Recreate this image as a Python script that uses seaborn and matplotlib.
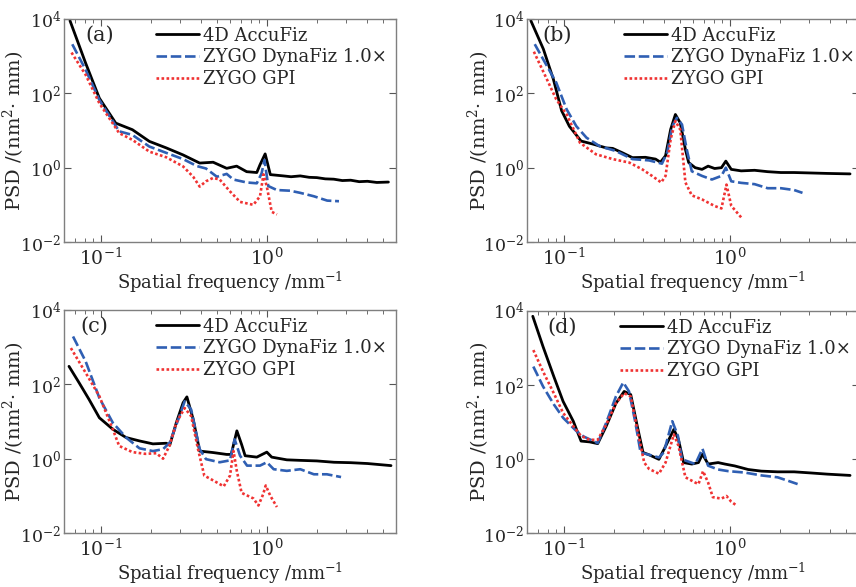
import matplotlib
matplotlib.use("Agg")
import matplotlib.pyplot as plt
import matplotlib.ticker as mticker
import pandas as pd
import seaborn as sns

SERIES = ["4D AccuFiz", "ZYGO DynaFiz 1.0×", "ZYGO GPI"]
COLORS = ["#000000", "#2f5fb3", "#f03232"]
PANELS = ["(a)", "(b)", "(c)", "(d)"]

# ---- panel (a) ----
a_acc_f = [0.0652, 0.081, 0.098, 0.123, 0.155, 0.196, 0.248, 0.313, 0.394, 0.475, 0.573, 0.658,
           0.756, 0.87, 0.91, 0.977, 1.05, 1.26, 1.4, 1.59, 1.8, 2.0, 2.25, 2.53, 2.85, 3.2, 3.6,
           4.04, 4.6, 5.4]
a_acc_psd = [9000, 650, 74, 15.8, 10.5, 5.1, 3.4, 2.2, 1.33, 1.4, 0.96, 1.1,
             0.78, 0.74, 1.2, 2.35, 0.65, 0.6, 0.57, 0.6, 0.55, 0.54, 0.5, 0.49, 0.45, 0.46, 0.42,
             0.43, 0.4, 0.41]
a_dyn_f = [0.0673, 0.081, 0.098, 0.129, 0.155, 0.196, 0.248, 0.313, 0.38, 0.43, 0.5, 0.573, 0.628,
           0.756, 0.87, 0.93, 0.968, 1.02, 1.15, 1.38, 1.59, 1.92, 2.31, 2.72]
a_dyn_psd = [2090, 430, 66, 9.5, 7.6, 3.7, 2.5, 1.7, 1.1, 0.95, 0.57, 0.68, 0.48,
             0.4, 0.38, 0.7, 1.6, 0.32, 0.25, 0.24, 0.21, 0.17, 0.13, 0.125]
a_gpi_f = [0.0666, 0.081, 0.098, 0.129, 0.155, 0.196, 0.248, 0.313, 0.36, 0.394, 0.43, 0.475,
           0.52, 0.6, 0.69, 0.83, 0.91, 0.955, 1.0, 1.07, 1.15]
a_gpi_psd = [1250, 315, 54, 8.5, 5.6, 2.7, 1.9, 1.08, 0.57, 0.31, 0.43, 0.53,
             0.48, 0.23, 0.12, 0.1, 0.17, 0.66, 0.31, 0.065, 0.055]

# ---- panel (b) ----
b_acc_f = [0.0633, 0.0753, 0.0865, 0.097, 0.108, 0.127, 0.15, 0.18, 0.197, 0.226, 0.259, 0.31,
           0.357, 0.382, 0.41, 0.44, 0.47, 0.503, 0.54, 0.565, 0.618, 0.68, 0.74, 0.81, 0.89,
           0.946, 1.02, 1.17, 1.41, 1.69, 2.03, 2.44, 3.07, 3.86, 5.3]
b_acc_psd = [9000, 1550, 240, 34, 13, 5.2, 4.3, 3.4, 3.3, 2.5, 1.86, 1.9,
             1.7, 1.4, 2.1, 10.7, 27, 16, 3.1, 1.37, 1.0, 0.9, 1.1, 0.95, 1.0,
             1.5, 0.9, 0.82, 0.85, 0.78, 0.74, 0.74, 0.72, 0.7, 0.68]
b_dyn_f = [0.0668, 0.079, 0.09, 0.104, 0.119, 0.137, 0.164, 0.206, 0.259, 0.326, 0.39, 0.42,
           0.45, 0.48, 0.515, 0.55, 0.59, 0.68, 0.78, 0.89, 0.946, 1.02, 1.17, 1.41, 1.69,
           2.03, 2.44, 2.74]
b_dyn_psd = [2100, 550, 195, 37, 13, 6.4, 3.8, 2.8, 1.7, 1.57, 1.28, 2.6,
             13, 22, 14.5, 3.1, 0.8, 0.6, 0.48, 0.6, 1.0, 0.43, 0.39, 0.36, 0.28,
             0.28, 0.25, 0.21]
b_gpi_f = [0.066, 0.079, 0.09, 0.104, 0.125, 0.156, 0.197, 0.248, 0.297, 0.34, 0.386, 0.41,
           0.44, 0.47, 0.503, 0.54, 0.59, 0.68, 0.81, 0.89, 0.955, 1.02, 1.17]
b_gpi_psd = [1320, 240, 69, 27, 4.7, 2.3, 1.7, 1.37, 0.9, 0.6, 0.4, 0.6,
             5.8, 18, 10.5, 0.4, 0.18, 0.14, 0.093, 0.08, 0.35, 0.094, 0.046]

# ---- panel (c) ----
c_acc_f = [0.0643, 0.074, 0.085, 0.098, 0.118, 0.142, 0.171, 0.206, 0.248, 0.26, 0.285, 0.313,
           0.33, 0.36, 0.394, 0.475, 0.573, 0.61, 0.66, 0.705, 0.74, 0.87, 1.0, 1.07, 1.32,
           1.59, 2.0, 2.54, 3.2, 4.04, 5.6]
c_acc_psd = [305, 110, 39, 12.6, 6.2, 3.7, 3.0, 2.5, 2.6, 2.3, 9.3, 32,
             46, 11.5, 1.6, 1.46, 1.3, 1.3, 5.6, 2.4, 1.2, 1.1, 1.5, 1.1, 0.93,
             0.9, 0.87, 0.8, 0.78, 0.74, 0.65]
c_dyn_f = [0.068, 0.081, 0.098, 0.118, 0.142, 0.171, 0.206, 0.237, 0.26, 0.298, 0.32, 0.35,
           0.394, 0.43, 0.52, 0.6, 0.64, 0.69, 0.76, 0.91, 1.0, 1.1, 1.32, 1.59, 1.92, 2.3, 2.8]
c_dyn_psd = [1940, 415, 43, 9.3, 3.7, 1.9, 1.6, 1.8, 2.7, 14, 35, 21,
             1.8, 0.97, 0.8, 0.9, 3.3, 1.2, 0.65, 0.65, 0.8, 0.52, 0.47, 0.52, 0.38, 0.38, 0.32]
c_gpi_f = [0.066, 0.081, 0.098, 0.118, 0.129, 0.155, 0.185, 0.216, 0.237, 0.26, 0.285, 0.32,
           0.35, 0.385, 0.42, 0.475, 0.55, 0.6, 0.63, 0.66, 0.705, 0.83, 0.89, 0.95, 0.985,
           1.05, 1.15]
c_gpi_psd = [945, 205, 48, 6.2, 2.2, 1.5, 1.35, 1.4, 1.0, 2.3, 9.3, 23,
             14, 1.8, 0.35, 0.26, 0.18, 0.35, 1.6, 0.46, 0.12, 0.085, 0.055, 0.11, 0.19,
             0.1, 0.05]

# ---- panel (d) ----
d_acc_f = [0.065, 0.075, 0.087, 0.099, 0.114, 0.127, 0.143, 0.16, 0.18, 0.206, 0.231, 0.253,
           0.277, 0.3, 0.326, 0.374, 0.41, 0.46, 0.49, 0.527, 0.59, 0.647, 0.684, 0.74, 0.85,
           0.934, 1.07, 1.29, 1.55, 1.94, 2.44, 3.07, 3.86, 5.3]
d_acc_psd = [7200, 1080, 170, 36, 10.5, 3.05, 2.9, 2.6, 7.7, 32, 67, 55,
             7.7, 1.5, 1.3, 0.98, 2.2, 6.3, 3.4, 0.8, 0.73, 0.8, 1.35, 0.73, 0.8,
             0.73, 0.65, 0.52, 0.47, 0.45, 0.45, 0.42, 0.39, 0.36]
d_dyn_f = [0.0655, 0.075, 0.087, 0.099, 0.119, 0.131, 0.143, 0.16, 0.18, 0.206, 0.228, 0.247,
           0.27, 0.29, 0.326, 0.374, 0.4, 0.45, 0.487, 0.515, 0.62, 0.684, 0.74, 0.85, 0.977,
           1.23, 1.55, 1.94, 2.23, 2.56]
d_dyn_psd = [315, 91, 30, 13, 5.7, 4.1, 3.4, 2.7, 9.5, 49, 117, 67,
             9.5, 1.5, 1.3, 1.1, 1.5, 10.5, 4.2, 0.98, 0.73, 1.9, 0.66, 0.52, 0.47,
             0.43, 0.36, 0.32, 0.26, 0.21]
d_gpi_f = [0.0655, 0.075, 0.087, 0.099, 0.114, 0.127, 0.143, 0.16, 0.18, 0.206, 0.231, 0.253,
           0.277, 0.305, 0.326, 0.374, 0.41, 0.46, 0.49, 0.54, 0.62, 0.647, 0.69, 0.74, 0.79,
           0.89, 0.955, 1.02, 1.1]
d_gpi_psd = [880, 230, 60, 17.6, 7.7, 4.2, 3.3, 3.3, 8.5, 32, 60, 49,
             6.3, 0.8, 0.54, 0.4, 0.8, 4.6, 2.3, 0.32, 0.23, 0.21, 0.47, 0.23, 0.093,
             0.085, 0.1, 0.07, 0.055]

panel_data = [
    [(a_acc_f, a_acc_psd), (a_dyn_f, a_dyn_psd), (a_gpi_f, a_gpi_psd)],
    [(b_acc_f, b_acc_psd), (b_dyn_f, b_dyn_psd), (b_gpi_f, b_gpi_psd)],
    [(c_acc_f, c_acc_psd), (c_dyn_f, c_dyn_psd), (c_gpi_f, c_gpi_psd)],
    [(d_acc_f, d_acc_psd), (d_dyn_f, d_dyn_psd), (d_gpi_f, d_gpi_psd)],
]

sns.set_theme(style="ticks")
plt.rcParams["font.family"] = ["DejaVu Serif"]
plt.rcParams["mathtext.fontset"] = "dejavuserif"

W, H = 856, 587
fig = plt.figure(figsize=(W / 100, H / 100), dpi=100)

# axes boxes in pixels: left, top, right, bottom
boxes = [(64, 19, 396, 242), (527, 19, 859, 242), (64, 310, 396, 533), (527, 311, 859, 533)]
tag_x = [0.063, 0.045, 0.048, 0.06]
leg_x = [0.277, 0.291, 0.277, 0.279]
ylab_x = [-0.11, -0.104, -0.11, -0.104]

dash_styles = [None, (4, 1.4), (1, 0.9)]
widths = [2.0, 1.9, 1.9]

for i, (l, t, r, b) in enumerate(boxes):
    ax = fig.add_axes([l / W, 1 - b / H, (r - l) / W, (b - t) / H])
    for j, (f, p) in enumerate(panel_data[i]):
        df = pd.DataFrame({"f": f, "psd": p})
        sns.lineplot(data=df, x="f", y="psd", ax=ax, color=COLORS[j], lw=widths[j],
                     estimator=None, sort=False, label=SERIES[j])
        if dash_styles[j] is not None:
            ax.lines[-1].set_dashes(dash_styles[j])
    ax.set_xscale("log")
    ax.set_yscale("log")
    ax.set_xlim(0.06, 6.0)
    ax.set_ylim(1e-2, 1e4)
    ax.yaxis.set_major_locator(mticker.FixedLocator([1e-2, 1e0, 1e2, 1e4]))
    ax.yaxis.set_minor_locator(mticker.NullLocator())
    ax.xaxis.set_major_locator(mticker.LogLocator(base=10))
    ax.xaxis.set_minor_locator(mticker.LogLocator(base=10, subs=range(2, 10)))
    ax.xaxis.set_major_formatter(mticker.LogFormatterMathtext())
    ax.yaxis.set_major_formatter(mticker.LogFormatterMathtext())
    ax.tick_params(which="both", direction="in", top=True, right=True, color="#555555",
                   labelsize=13.5)
    ax.tick_params(axis="y", pad=2, labelsize=12.5)
    ax.tick_params(axis="x", pad=4)
    ax.tick_params(which="major", length=5, width=0.8)
    ax.tick_params(which="minor", length=3, width=0.6)
    for s in ax.spines.values():
        s.set_color("#7f7f7f")
        s.set_linewidth(1.0)
    ax.set_xlabel("Spatial frequency /mm$^{-1}$", fontsize=13, labelpad=1)
    ax.set_ylabel("PSD /(nm$^{2}$· mm)", fontsize=14)
    ax.yaxis.set_label_coords(ylab_x[i], 0.5)
    ax.text(tag_x[i], 0.928, PANELS[i], transform=ax.transAxes, fontsize=15,
            ha="left", va="center")
    ax.legend(loc="upper left", bbox_to_anchor=(leg_x[i], 0.965), frameon=False,
              fontsize=13, handlelength=2.4, handletextpad=0.2, labelspacing=0.2,
              borderaxespad=0, borderpad=0)

fig.savefig("out.png", dpi=100)
